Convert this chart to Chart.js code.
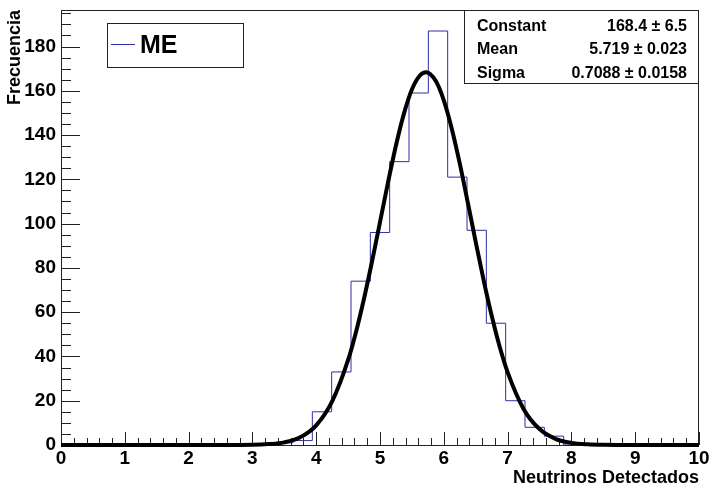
<!DOCTYPE html>
<html>
<head>
<meta charset="utf-8">
<script src="https://cdn.jsdelivr.net/npm/chart.js@4"></script>
<style>
  body { margin: 0; background: #fff; }
  #wrap { width: 713px; height: 486px; }
</style>
</head>
<body>
<div id="wrap"><canvas id="histo" width="713" height="486"></canvas></div>
<script>
// histogram: 33 bins between 0 and 10
const binLow = 0;
const binHigh = 10;
const binCounts = [0, 0, 0, 0, 0, 0, 0, 0, 0, 0, 0, 1, 2, 15, 33, 74, 96, 128, 159, 187,
                   121, 97, 55, 20, 8, 4, 0, 0, 0, 0, 0, 0, 0];

// gaussian fit, values
const fitX = [0, 1, 2, 2.5, 3, 3.25, 3.5, 3.75, 4, 4.25, 4.5, 4.625, 4.75, 4.875, 5, 5.125,
              5.25, 5.375, 5.5, 5.625, 5.72, 5.875, 6, 6.125, 6.25, 6.375, 6.5, 6.625, 6.75,
              6.875, 7, 7.25, 7.5, 7.75, 8, 8.25, 8.5, 9, 10];
const fitY = [0, 0, 0, 0.01, 0.1, 0.4, 1.2, 3.5, 8.9, 19.7, 38.4, 51.2, 66.2, 82.9, 100.7, 118.5,
              135.3, 149.7, 160.6, 166.9, 168.4, 164.4, 155.7, 142.9, 127.2, 109.7, 91.8, 74.4, 58.5,
              44.5, 32.9, 16.3, 7.2, 2.8, 0.95, 0.3, 0.08, 0, 0];

const statNames = ['Constant', 'Mean', 'Sigma'];
const statValues = ['168.4 \u00b1 6.5', '5.719 \u00b1 0.023', '0.7088 \u00b1 0.0158'];
const legendLabel = 'ME';

const FONT = "'Liberation Sans', Arial, Helvetica, sans-serif";
const histColor = '#2f2fa6';

const binWidth = (binHigh - binLow) / binCounts.length;
const histPoints = binCounts.map((c, i) => ({ x: binLow + i * binWidth, y: c }));
histPoints.push({ x: binHigh, y: 0 });
const fitPoints = fitX.map((x, i) => ({ x: x, y: fitY[i] }));

// ROOT style frame, inner ticks, legend and stats box
const rootDecor = {
  id: 'rootDecor',
  beforeDatasetsDraw(chart) {
    const { ctx, chartArea: a, scales: { x, y } } = chart;
    ctx.save();
    ctx.strokeStyle = '#222';
    ctx.lineWidth = 1;
    ctx.strokeRect(a.left + 0.5, a.top + 0.5, a.right - a.left - 1, a.bottom - a.top);
    ctx.beginPath();
    // x ticks, every 0.2, major every 1
    for (let k = 0; k <= 50; k++) {
      const px = Math.round(x.getPixelForValue(k * 0.2)) + 0.5;
      const len = k % 5 === 0 ? 13 : 7;
      ctx.moveTo(px, a.bottom);
      ctx.lineTo(px, a.bottom - len);
    }
    // y ticks, every 5, major every 20
    for (let k = 0; k * 5 <= y.max; k++) {
      const py = Math.round(y.getPixelForValue(k * 5)) + 0.5;
      const len = k % 4 === 0 ? 19 : 10;
      ctx.moveTo(a.left, py);
      ctx.lineTo(a.left + len, py);
    }
    ctx.stroke();
    ctx.restore();
  },
  afterDraw(chart) {
    const { ctx, chartArea: a } = chart;
    ctx.save();
    // legend
    ctx.fillStyle = '#fff';
    ctx.fillRect(107, 23, 136, 44);
    ctx.strokeStyle = '#222';
    ctx.lineWidth = 1;
    ctx.strokeRect(107.5, 23.5, 136, 44);
    ctx.strokeStyle = histColor;
    ctx.beginPath();
    ctx.moveTo(111, 44.5);
    ctx.lineTo(135, 44.5);
    ctx.stroke();
    ctx.fillStyle = '#000';
    ctx.font = 'bold 25px ' + FONT;
    ctx.textBaseline = 'middle';
    ctx.fillText(legendLabel, 140, 46);

    // stats box
    const bx = 464, bw = a.right - bx, bh = 73;
    ctx.fillStyle = '#fff';
    ctx.fillRect(bx, a.top, bw, bh);
    ctx.strokeStyle = '#222';
    ctx.strokeRect(bx + 0.5, a.top + 0.5, bw - 1, bh);
    ctx.fillStyle = '#000';
    ctx.font = 'bold 16px ' + FONT;
    statNames.forEach((n, i) => {
      const ty = a.top + 16.5 + i * 23.3;
      ctx.textAlign = 'left';
      ctx.fillText(n, 477, ty);
      ctx.textAlign = 'right';
      ctx.fillText(statValues[i], 687, ty);
    });
    ctx.restore();
  }
};

new Chart(document.getElementById('histo'), {
  type: 'line',
  data: {
    datasets: [
      {
        label: 'fit',
        data: fitPoints,
        borderColor: '#000',
        borderWidth: 4,
        pointRadius: 0,
        cubicInterpolationMode: 'monotone',
        fill: false,
        clip: 6
      },
      {
        label: legendLabel,
        data: histPoints,
        borderColor: histColor,
        borderWidth: 1,
        pointRadius: 0,
        stepped: 'before',
        fill: false
      }
    ]
  },
  options: {
    responsive: false,
    animation: false,
    layout: { padding: { top: 10, right: 14, left: 0, bottom: 0 } },
    plugins: {
      legend: { display: false },
      tooltip: { enabled: false }
    },
    scales: {
      x: {
        type: 'linear',
        min: 0,
        max: 10,
        afterFit(scale) {
          scale.height = 41;
          scale.paddingLeft = 0;
          scale.paddingRight = 0;
        },
        grid: { display: false, drawTicks: false },
        border: { display: false },
        ticks: {
          stepSize: 1,
          padding: 2,
          color: '#000',
          font: { family: FONT, size: 19, weight: 'bold' }
        },
        title: {
          display: true,
          text: 'Neutrinos Detectados',
          align: 'end',
          color: '#000',
          padding: { top: 0, bottom: -3 },
          font: { family: FONT, size: 18, weight: 'bold' }
        }
      },
      y: {
        min: 0,
        max: 196.5,
        afterFit(scale) {
          scale.width = 61;
          scale.paddingTop = 0;
          scale.paddingBottom = 0;
        },
        grid: { display: false, drawTicks: false },
        border: { display: false },
        ticks: {
          stepSize: 20,
          includeBounds: false,
          padding: 5,
          color: '#000',
          font: { family: FONT, size: 19, weight: 'bold' }
        },
        title: {
          display: true,
          text: 'Frecuencia',
          align: 'end',
          color: '#000',
          padding: { top: 4, bottom: 0 },
          font: { family: FONT, size: 18, weight: 'bold' }
        }
      }
    }
  },
  plugins: [rootDecor]
});
</script>
</body>
</html>
